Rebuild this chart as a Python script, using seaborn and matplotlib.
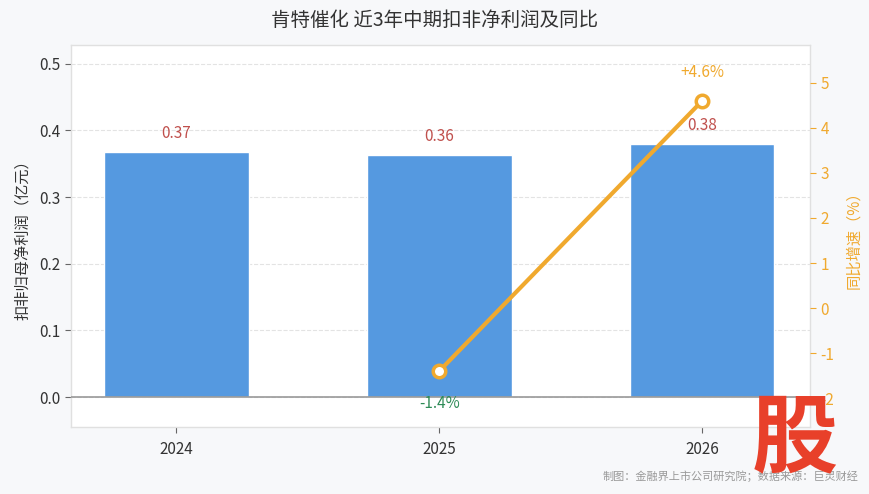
import matplotlib
matplotlib.use("Agg")
import matplotlib.pyplot as plt
import seaborn as sns
import pandas as pd
import numpy as np

# data
years = ["2024", "2025", "2026"]
profit = [0.368, 0.363, 0.380]          # 扣非归母净利润（亿元）
profit_labels = ["0.37", "0.36", "0.38"]
yoy = [np.nan, -1.4, 4.6]               # 同比增速（%）
yoy_labels = ["", "-1.4%", "+4.6%"]

sns.set_theme(style="white")
plt.rcParams['font.family'] = ['Noto Sans CJK SC', 'DejaVu Sans']
plt.rcParams['axes.unicode_minus'] = False

bar_color = "#5599e0"
line_color = "#f0a92e"
bg = "#f7f8fa"

fig = plt.figure(figsize=(8.7, 4.94), dpi=100, facecolor=bg)
ax = fig.add_axes([71 / 870, 1 - 427 / 494, (810 - 71) / 870, (427 - 45) / 494])
ax.set_facecolor("white")

df = pd.DataFrame({"year": years, "profit": profit, "yoy": yoy})
sns.barplot(data=df, x="year", y="profit", color=bar_color, width=0.55,
            saturation=1, ax=ax, zorder=2)

ax.set_xlim(-0.4, 2.41)
ax.set_ylim(-0.045, 0.528)
ax.set_yticks([0.0, 0.1, 0.2, 0.3, 0.4, 0.5])
ax.set_yticklabels(["0.0", "0.1", "0.2", "0.3", "0.4", "0.5"])
ax.yaxis.grid(True, linestyle="--", color="#e3e3e3", linewidth=0.8, zorder=0)
ax.axhline(0, color="#999999", linewidth=1.2, zorder=3)
ax.tick_params(axis="both", colors="#333333", labelsize=11, length=4, width=0.8,
               left=True, bottom=True)
ax.tick_params(axis="y", colors="#666666", labelcolor="#333333")
ax.tick_params(axis="x", colors="#666666", labelcolor="#333333", pad=6)
ax.set_xlabel("")
ax.set_ylabel("扣非归母净利润（亿元）", fontsize=11, color="#333333", labelpad=6)
for s in ax.spines.values():
    s.set_color("#e0e0e0")
    s.set_linewidth(1)

for i, (v, lab) in enumerate(zip(profit, profit_labels)):
    ax.text(i - 0.0, v + 0.028, lab, ha="center", va="center", fontsize=11,
            color="#c0504d", zorder=5)

ax2 = ax.twinx()
sns.lineplot(x=np.arange(len(years)), y=df["yoy"], ax=ax2, color=line_color,
             linewidth=3, marker="o", markersize=9, markerfacecolor="white",
             markeredgecolor=line_color, markeredgewidth=2.5, zorder=4)
ax2.set_ylim(-2.64, 5.84)
ax2.set_yticks([-2, -1, 0, 1, 2, 3, 4, 5])
ax2.tick_params(axis="y", colors=line_color, labelsize=11, length=4, width=0.8, right=True)
ax2.set_ylabel("同比增速（%）", fontsize=11, color=line_color, labelpad=8)
for s in ax2.spines.values():
    s.set_visible(False)

for i, (v, lab) in enumerate(zip(yoy, yoy_labels)):
    if not lab:
        continue
    if v < 0:
        ax2.text(i, v - 0.72, lab, ha="center", va="center", fontsize=11, color="#2e8b57")
    else:
        ax2.text(i, v + 0.62, lab, ha="center", va="center", fontsize=11, color=line_color)

fig.text(0.5, 1 - 20 / 494, "肯特催化 近3年中期扣非净利润及同比", ha="center", va="center",
         fontsize=14, color="#333333")
fig.text(858 / 870, 1 - 476 / 494, "制图：金融界上市公司研究院；数据来源：巨灵财经",
         ha="right", va="center", fontsize=8, color="#999999")
fig.text(795 / 870, 1 - 440 / 494, "股", ha="center", va="center", fontsize=62,
         fontweight="bold", color="#e8402a")

fig.savefig("out.png", dpi=100, facecolor=bg)
